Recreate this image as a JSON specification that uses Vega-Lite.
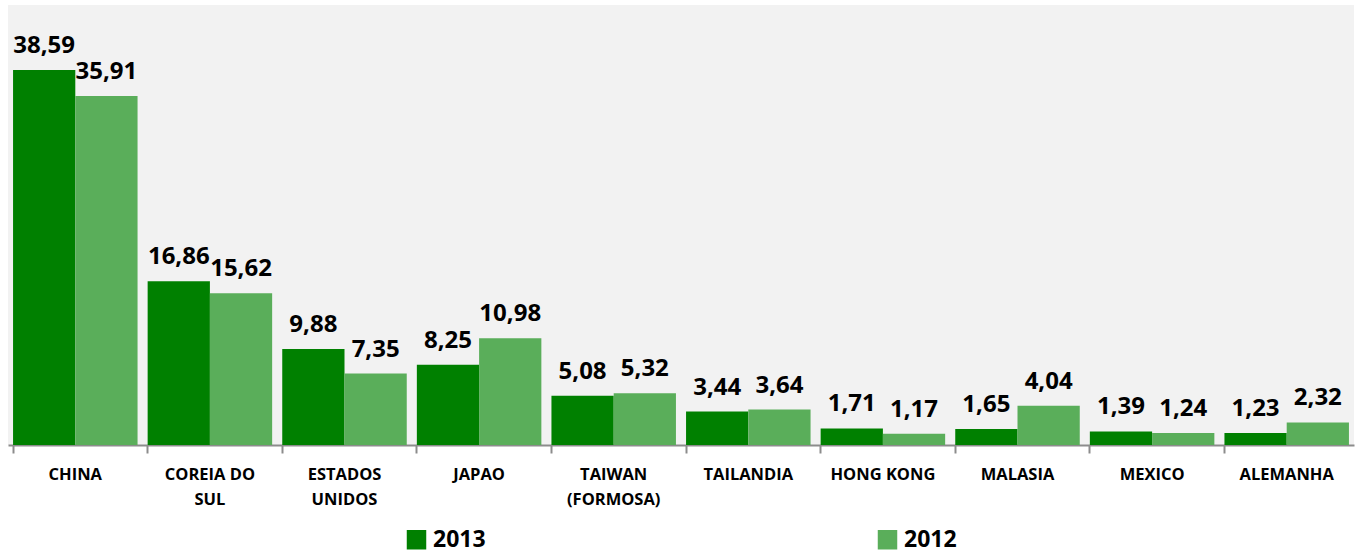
{
  "$schema": "https://vega.github.io/schema/vega-lite/v6.json",
  "width": 1346,
  "height": 440,
  "autosize": {"type": "none"},
  "padding": {"left": 8, "top": 5, "right": 5, "bottom": 108},
  "background": "white",
  "config": {
    "view": {"fill": "#f2f2f2", "stroke": null},
    "locale": {"number": {"decimal": ",", "thousands": ".", "grouping": [3], "currency": ["", ""]}},
    "font": "Open Sans"
  },
  "data": {
    "values": [
      {"country": "CHINA", "year": "2013", "value": 38.59},
      {"country": "CHINA", "year": "2012", "value": 35.91},
      {"country": "COREIA DO SUL", "year": "2013", "value": 16.86},
      {"country": "COREIA DO SUL", "year": "2012", "value": 15.62},
      {"country": "ESTADOS UNIDOS", "year": "2013", "value": 9.88},
      {"country": "ESTADOS UNIDOS", "year": "2012", "value": 7.35},
      {"country": "JAPAO", "year": "2013", "value": 8.25},
      {"country": "JAPAO", "year": "2012", "value": 10.98},
      {"country": "TAIWAN (FORMOSA)", "year": "2013", "value": 5.08},
      {"country": "TAIWAN (FORMOSA)", "year": "2012", "value": 5.32},
      {"country": "TAILANDIA", "year": "2013", "value": 3.44},
      {"country": "TAILANDIA", "year": "2012", "value": 3.64},
      {"country": "HONG KONG", "year": "2013", "value": 1.71},
      {"country": "HONG KONG", "year": "2012", "value": 1.17},
      {"country": "MALASIA", "year": "2013", "value": 1.65},
      {"country": "MALASIA", "year": "2012", "value": 4.04},
      {"country": "MEXICO", "year": "2013", "value": 1.39},
      {"country": "MEXICO", "year": "2012", "value": 1.24},
      {"country": "ALEMANHA", "year": "2013", "value": 1.23},
      {"country": "ALEMANHA", "year": "2012", "value": 2.32}
    ]
  },
  "encoding": {
    "x": {
      "field": "country",
      "type": "nominal",
      "sort": null,
      "scale": {"paddingInner": 0.075, "paddingOuter": 0.0375},
      "axis": {
        "title": null,
        "labelAngle": 0,
        "labelFont": "Open Sans",
        "labelFontSize": 16.5,
        "labelFontWeight": "bold",
        "labelColor": "#000000",
        "labelPadding": 13,
        "labelLineHeight": 25,
        "labelBaseline": "top",
        "labelExpr": "datum.label == 'COREIA DO SUL' ? ['COREIA DO','SUL'] : datum.label == 'ESTADOS UNIDOS' ? ['ESTADOS','UNIDOS'] : datum.label == 'TAIWAN (FORMOSA)' ? ['TAIWAN','(FORMOSA)'] : datum.label",
        "bandPosition": 0,
        "tickColor": "#8c8c8c",
        "tickSize": 8,
        "tickWidth": 2,
        "domainColor": "#8c8c8c",
        "domainWidth": 2
      }
    },
    "xOffset": {"field": "year", "type": "nominal", "sort": ["2013", "2012"], "scale": {"paddingInner": 0, "paddingOuter": 0}},
    "y": {
      "field": "value",
      "type": "quantitative",
      "scale": {"domain": [0, 45.27], "nice": false},
      "axis": null
    }
  },
  "layer": [
    {
      "mark": {"type": "bar"},
      "encoding": {
        "color": {
          "field": "year",
          "type": "nominal",
          "sort": ["2013", "2012"],
          "scale": {"domain": ["2013", "2012"], "range": ["#008000", "#5aae5a"]},
          "legend": {
            "title": null,
            "orient": "none",
            "legendX": 397,
            "legendY": 523,
            "direction": "horizontal",
            "columns": 2,
            "columnPadding": 390,
            "padding": 0,
            "symbolType": "square",
            "symbolSize": 380,
            "symbolStrokeWidth": 0,
            "symbolOpacity": 1,
            "labelFont": "Open Sans",
            "labelFontSize": 23,
            "labelFontWeight": "bold",
            "labelColor": "#000000",
            "labelOffset": 5
          }
        }
      }
    },
    {
      "mark": {"type": "text", "baseline": "bottom", "dy": -12, "font": "Open Sans", "fontSize": 24, "fontWeight": "bold", "color": "#000000"},
      "encoding": {
        "text": {"field": "value", "type": "quantitative", "format": ".2f"}
      }
    }
  ]
}
